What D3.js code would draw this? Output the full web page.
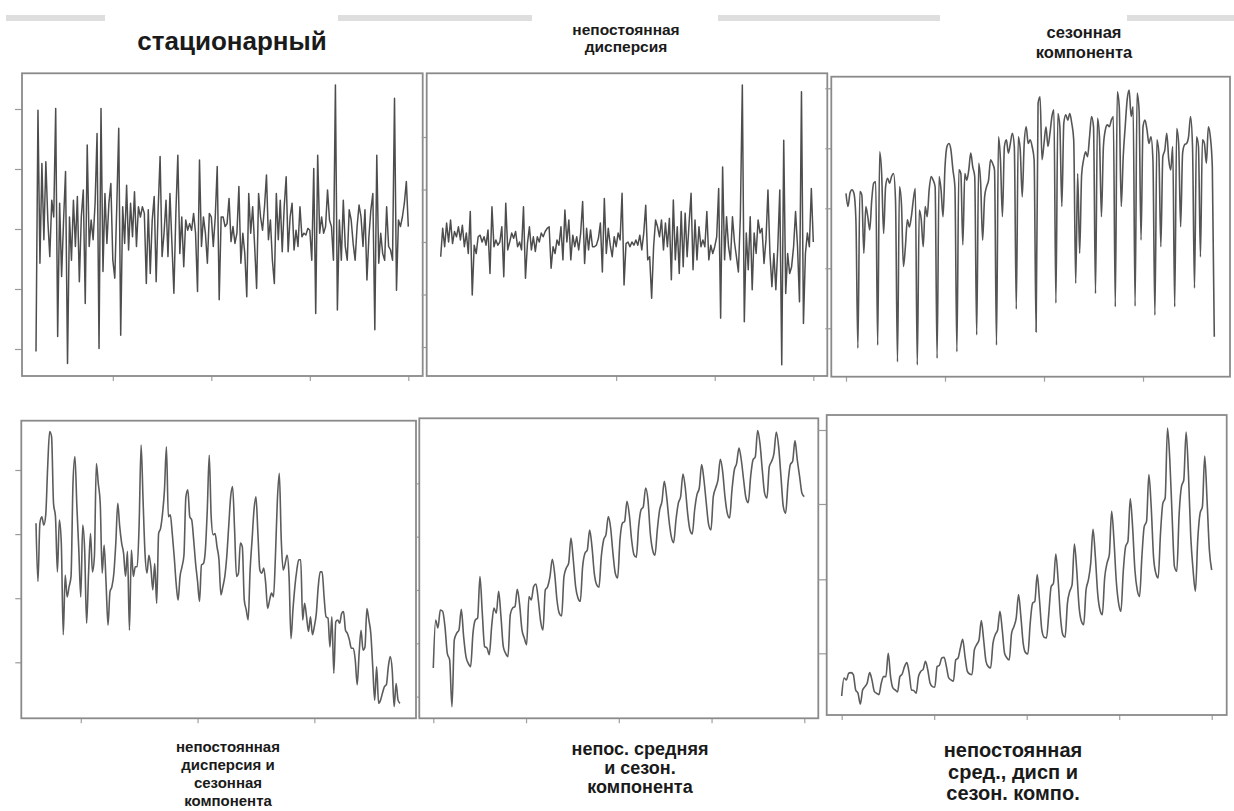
<!DOCTYPE html>
<html><head><meta charset="utf-8">
<script src="https://cdn.jsdelivr.net/npm/d3@7"></script>
<style>body{margin:0;background:#fff}svg{display:block}</style>
</head><body>
<svg id="c" width="1234" height="811"></svg>
<script>
// ---- data (arbitrary units) ----
const stationary = [
-20.4,19.8,-5.7,10.9,-1.8,11.2,1.5,-4.6,4.8,2,
20.1,-17.9,4.3,-7.9,1.5,9.6,-22.4,2,-5.2,4.8,
-2.9,5.4,-8.8,2,6.5,-12.4,14,-2.9,1.5,-1.8,
4.3,15.9,-19.9,20.1,-7.1,5.9,-2.4,4.3,7.6,-5.2,
-8.2,3.7,16.8,-17.7,3.7,-2.4,7.3,-3.5,4.3,-1.3,
6.2,-2.9,3.7,2,3.7,2.6,-9.1,3.2,-7.4,1.5,
5.4,-8.8,3.2,12.1,-4.6,-0.7,4.8,-4.6,5.9,-2.4,
-10.7,2.6,12.3,-4.1,2,-6.3,1.5,-0.2,0.9,-0.2,
2.6,-0.7,-10.4,11.5,-2.9,2,-0.7,-5.7,2.6,2,
-2.9,2,10.4,-11.8,2,2,0.4,0.9,5.1,-2.1,
0.4,-2.4,-0.7,7.1,-5.7,-0.7,-4.1,-11.3,5.9,-0.7,
3.7,-2.9,-9.9,5.9,2,-0.2,3.7,9,-1.8,1.5,
-5.2,-9.1,5.9,-1.8,4.8,-3.8,3.7,8.7,-3.8,2,
4.3,-3.5,-0.2,-2.9,3.7,-1.3,-0.7,-1,0.1,-0.2,
-5.2,10.1,-14.1,12.3,-0.7,2,-0.7,0.4,6.5,1.5,
0.4,-5.2,24,-13.5,1.5,-5.2,4.8,-2.9,-5.2,3.2,
1.5,-2.4,-5.2,0.4,4,2,-2.9,3.2,-8.5,-1.3,
3.2,5.9,-16.8,12.3,-5.7,-0.7,-4.1,-5.2,3.7,-2.9,
-3.5,-5.2,21.8,-10.2,1.5,0.4,2,4.3,7.9,0.4];

const varDispersion = [
-2.8,2.6,-0.9,3.6,0,4.2,-0.3,2,1,2.9,
0.4,3.2,-0.9,1.7,-2.2,5.8,-10.1,-0.6,-2.2,1,
1.3,0,1,-0.6,2.3,-6,6.7,-0.9,0.4,-0.6,
0,2.9,-6.6,7.4,-1.5,0,1.7,0.7,2,-0.9,
0,-1.5,6.7,-6.9,-0.3,2.9,-1.5,1,-1.8,1,
0,1.7,1,2,2.6,2.9,-5,-0.9,-2.2,0.4,
-0.6,2.9,-3.4,6.1,0,4.2,-3.4,1.3,-0.9,1,
-1.5,1.7,7.7,-4.1,2.6,-1.5,2.3,-0.9,-0.9,-0.6,
0.7,3.6,-5.7,8.3,-2.2,2.6,-0.6,-2.8,1,-0.9,
1.7,0.4,9.3,-8.2,-0.3,0,-0.9,0,-0.6,0.4,
-0.6,1.3,-1.5,1.7,7,-3.4,-2.8,-10.7,-0.9,4.2,
2.9,1,4.2,-1.5,3.6,-0.9,4.5,-7.2,8,-3.4,
2.9,-6,5.8,-4.7,5.5,-2.8,3.6,9.3,-5.3,4.2,
-3.4,2.9,-0.9,0.4,-0.9,5.8,-3.4,-0.6,-2.2,-0.9,
1,10.2,-14.5,14.3,-3.4,4.8,-0.9,-3.4,4.8,0,
-2.8,-5.7,4.8,29.9,-15.2,1.7,-5.3,4.8,-9.1,1.7,
-2.2,4.2,1.7,2.6,-4.1,0.4,9.9,-2.2,-8.5,-2.2,
-9.1,-0.9,9.9,-23.4,19.4,-9.8,-2.2,-6,-4.7,-0.9,
5.8,-0.9,-11.4,28.6,-15.5,-2.2,1.7,-0.9,10.2,0];

const seasonal = [
325,303,325,331,325,281,67,
328,322,225,303,286,264,314,342,344,72,
394,358,258,336,350,342,353,358,314,44,
336,308,203,236,281,269,286,314,333,39,
297,281,236,303,286,331,353,347,336,50,
353,331,286,369,403,408,397,364,336,61,
364,358,239,358,347,364,392,369,353,89,
375,342,247,319,336,347,381,375,364,72,
419,381,286,403,414,392,408,425,403,132,
419,397,319,408,436,408,414,403,381,94,
475,486,381,408,436,403,425,453,464,142,
458,436,303,442,456,447,458,442,414,175,
358,225,356,381,394,386,419,453,436,158,
450,419,286,403,431,439,436,447,453,136,
494,469,303,386,436,481,497,453,469,137,
492,464,247,436,447,431,408,419,381,122,
414,392,236,386,397,425,381,364,403,136,
433,408,269,392,406,408,419,453,403,167,
419,403,219,414,408,375,436,419,369,86];

const dispSeasonal = [
317,226,317,327,314,330,405,460,452,348,
327,241,322,286,143,236,202,218,234,379,
421,343,275,202,314,275,161,239,301,241,
265,410,379,348,239,283,223,158,210,218,
239,286,348,312,286,270,234,273,150,275,
234,249,249,317,439,353,270,239,267,249,
213,254,192,301,309,332,369,436,327,330,
301,265,223,197,234,249,267,358,369,327,
322,291,254,226,195,252,254,275,338,423,
327,299,301,280,260,205,218,234,265,312,
358,374,309,234,239,286,280,197,182,166,
244,291,338,358,301,244,239,247,223,184,
197,208,202,265,353,395,291,244,254,267,
234,137,182,218,244,260,260,166,192,171,
148,171,143,156,176,218,241,241,202,171,
169,124,171,83,163,166,161,176,179,150,
145,135,122,122,104,65,114,150,119,124,
184,166,145,93,41,93,36,41,52,62,
65,93,109,88,31,67,41,36];

const trendSeasonal = [
98,170,158,185,183,160,120,110,40,140,
150,155,186,145,115,105,100,150,170,173,
235,180,130,128,118,160,188,180,213,175,
130,120,115,178,188,190,216,193,155,143,
133,205,200,220,224,200,168,155,215,220,
235,261,240,200,180,176,235,248,255,293,
260,220,203,198,250,270,275,305,280,240,
223,219,265,290,298,325,308,270,240,233,
290,315,318,348,328,290,268,264,310,335,
340,368,350,300,275,267,305,335,348,378,
355,320,295,286,320,345,355,389,368,330,
305,299,335,358,368,403,380,345,313,305,
355,368,380,411,393,355,330,323,365,395,
405,428,410,380,353,346,385,410,415,454,
435,395,360,353,400,408,420,452,430,385,
340,330,375,403,408,439,410,385,360,355];

const trendDispSeasonal = [
56,83,80,90,91,88,65,60,44,65,
70,76,91,80,63,60,58,75,85,85,
120,85,68,65,62,85,89,100,106,90,
65,64,60,85,93,96,108,95,75,70,
69,100,102,113,114,100,83,80,78,110,
113,128,141,115,93,89,88,125,133,140,
169,140,108,100,98,135,148,155,183,155,
120,113,110,150,160,173,208,175,135,121,
119,165,195,198,238,200,155,144,143,180,
220,225,269,230,175,148,144,195,213,223,
284,245,190,168,163,215,230,255,306,265,
210,185,178,233,255,268,333,290,228,195,
183,243,280,288,352,310,245,215,205,265,
310,318,388,340,265,240,233,300,345,353,
458,410,325,250,243,328,370,380,452,390,
295,245,213,290,330,340,416,350,275,245];

// tick values (no labels in the original)
const yTicks1 = [20,10,0,-10,-20];
const yTicks2 = [20,10,0,-10,-20];
const yTicks3 = [500,400,300,200,100];
const yTicks4 = [400,300,200,100];
const yTicks5 = [375,295,215,135,55];
const yTicks6 = [455,344,231,120];
const xTicks1 = [50,100,150,200];
const xTicks2 = [100,150,200];
const xTicks3 = [0,50,100,150];
const xTicks4 = [60,120,180];

// titles
const topTitles = [
  {lines:["стационарный"], x:232, y:[50], size:26},
  {lines:["непостоянная","дисперсия"], x:626, y:[35,52], size:15.5},
  {lines:["сезонная","компонента"], x:1084, y:[38,58], size:16.5}
];
const bottomTitles = [
  {lines:["непостоянная","дисперсия и","сезонная","компонента"], x:228, y:[752,770,788,806], size:15},
  {lines:["непос. средняя","и сезон.","компонента"], x:640, y:[755,774,793], size:18},
  {lines:["непостоянная","сред., дисп и","сезон. компо."], x:1013, y:[757,779,800], size:20}
];

// ---- layout ----
const svg = d3.select('#c');
const defs = svg.append('defs');
defs.append('filter').attr('id','soft').attr('x','-5%').attr('y','-5%').attr('width','110%').attr('height','110%')
  .append('feGaussianBlur').attr('stdDeviation',0.45);

const bars = [[6,105],[338,532],[718,940],[1127,1234]];
svg.selectAll('rect.bar').data(bars).join('rect').attr('class','bar')
  .attr('x',d=>d[0]).attr('y',15).attr('width',d=>d[1]-d[0]).attr('height',6).attr('fill','#dedede');

const panels = [
  {data:stationary, t0:11, box:[22,73.3,422.7,376], xr:[36,408.3], yd:[0,10], yr:[229,169], yt:yTicks1, xt:xTicks1, tl:7, curve:d3.curveLinear, col:'#4e4e4e', w:1.5},
  {data:varDispersion, t0:11, box:[426.7,73.3,827.3,376], xr:[440.7,813.3], yd:[0,10], yr:[242,189.5], yt:yTicks2, xt:xTicks2, tl:5, curve:d3.curveLinear, col:'#4e4e4e', w:1.5},
  {data:seasonal, t0:0, box:[831.3,76.7,1230,376.7], xr:[846,1214.3], yd:[100,500], yr:[328.3,88.3], yt:yTicks3, xt:xTicks3, tl:6, curve:d3.curveMonotoneX, col:'#555', w:1.6},
  {data:dispSeasonal, t0:37, box:[21.3,420.7,416,718.3], xr:[36,400], yd:[100,400], yr:[662.3,470], yt:yTicks4, xt:xTicks4, tl:6, curve:d3.curveMonotoneX, col:'#5c5c5c', w:1.6},
  {data:trendSeasonal, t0:0, box:[419.3,418.3,818.3,718.3], xr:[433.3,804.3], yd:[0,500], yr:[733.3,400], yt:yTicks5, xt:null, tl:3, curve:d3.curveMonotoneX, col:'#5c5c5c', w:1.6},
  {data:trendDispSeasonal, t0:0, box:[826.7,415,1226.7,715], xr:[841.7,1211.7], yd:[0,500], yr:[733.3,400], yt:yTicks6, xt:null, tl:8, curve:d3.curveMonotoneX, col:'#5c5c5c', w:1.6}
];

panels.forEach(p=>{
  const n = p.data.length;
  const x = d3.scaleLinear().domain([p.t0, p.t0+n-1]).range(p.xr);
  const y = d3.scaleLinear().domain(p.yd).range(p.yr);
  const g = svg.append('g');
  const [x0,y0,x1,y1] = p.box;
  const ya = d3.axisLeft(y).tickValues(p.yt).tickSize(p.tl).tickFormat('');
  const gy = g.append('g').attr('transform',`translate(${x0},0)`).call(ya);
  gy.select('.domain').remove();
  gy.selectAll('line').attr('stroke','#9a9a9a').attr('stroke-width',1.2);
  const xt = p.xt || [0,0.25,0.5,0.75,1].map(f=>p.t0+f*(n-1));
  const xa = d3.axisBottom(x).tickValues(xt).tickSize(5).tickFormat('');
  const gx = g.append('g').attr('transform',`translate(0,${y1})`).call(xa);
  gx.select('.domain').remove();
  gx.selectAll('line').attr('stroke','#a0a0a0').attr('stroke-width',1.2);
  g.append('rect').attr('x',x0).attr('y',y0).attr('width',x1-x0).attr('height',y1-y0)
   .attr('fill','none').attr('stroke','#8a8a8a').attr('stroke-width',1.8);
  const line = d3.line().curve(p.curve).x((d,i)=>x(p.t0+i)).y(d=>y(d));
  g.append('path').datum(p.data).attr('d',line).attr('fill','none')
   .attr('stroke',p.col).attr('stroke-width',p.w).attr('stroke-linejoin','round')
   .attr('filter','url(#soft)');
});

function titles(list){
  list.forEach(t=>{
    const tx = svg.append('text').attr('text-anchor','middle')
      .attr('font-family','"Liberation Sans", Arial, sans-serif').attr('font-weight','bold')
      .attr('font-size',t.size).attr('fill','#1a1a1a');
    t.lines.forEach((l,i)=>tx.append('tspan').attr('x',t.x).attr('y',t.y[i]).text(l));
  });
}
titles(topTitles);
titles(bottomTitles);
</script>
</body></html>
